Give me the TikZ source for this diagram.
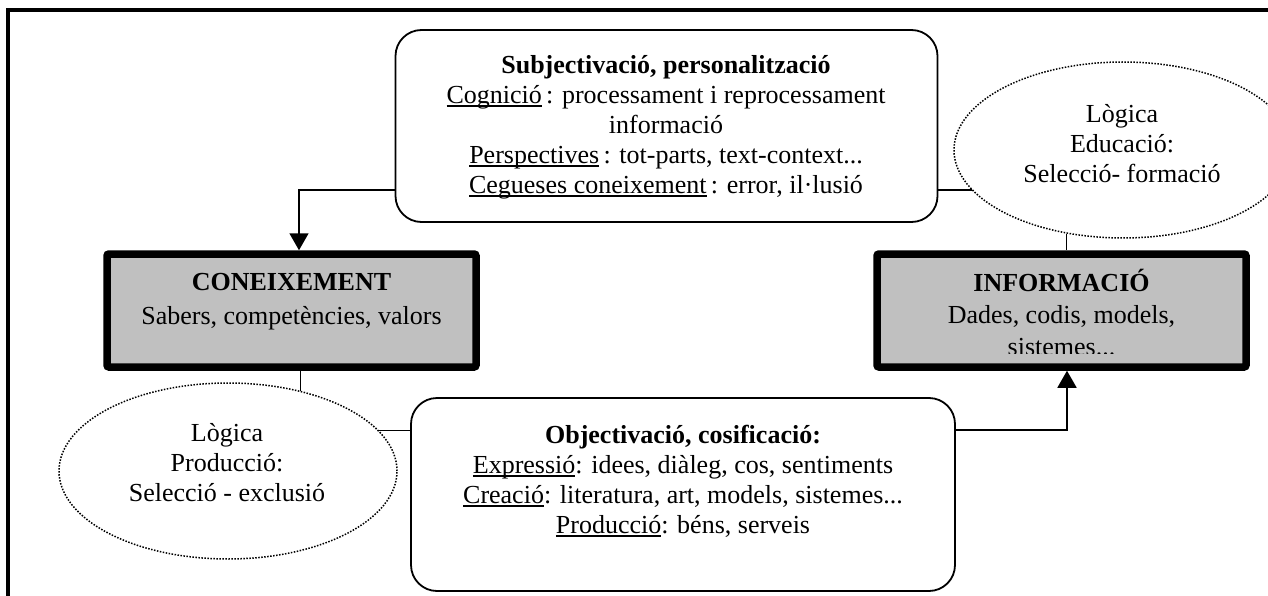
\documentclass[tikz,border=0pt]{standalone}
\usepackage{fontspec}
\setmainfont{Liberation Serif}
\usepackage{xcolor}
\usetikzlibrary{arrows.meta,shapes.geometric,positioning}
\definecolor{boxgray}{HTML}{C0C0C0}
\newcommand{\ulw}[1]{\setbox0\hbox{#1}\rlap{\rule[-4pt]{\wd0}{2pt}}\box0}

\begin{document}
\begin{tikzpicture}[x=1pt,y=-1pt,
  roundbox/.style={draw,line width=1.8pt,rounded corners=26pt,inner sep=0pt},
  graybox/.style={draw,fill=boxgray,line width=7.5pt,rounded corners=2pt,inner sep=0pt},
  logic/.style={ellipse,draw,line width=1.5pt,dash pattern=on 1.5pt off 1.5pt,inner sep=0pt},
  txt/.style={align=center,font=\fontsize{26}{30}\selectfont,inner sep=0pt},
  conn/.style={line width=1.6pt},
  arrowto/.style={-{Triangle[length=17pt,width=19pt]}}]
  \useasboundingbox (0,0) rectangle (1268,596);
  \clip (0,0) rectangle (1268,596);
  \draw[line width=3.5pt] (8,620) -- (8,10) -- (1290,10);

  \node[roundbox,minimum width=542pt,minimum height=192pt] (subj) at (666.5,126) {};
  \node[graybox,minimum width=369pt,minimum height=113pt] (con) at (291.5,310.5) {};
  \node[graybox,minimum width=369pt,minimum height=113pt] (inf) at (1061.5,310.5) {};
  \node[roundbox,minimum width=544pt,minimum height=193pt] (obj) at (683,494.5) {};
  \node[logic,minimum width=338pt,minimum height=176pt] (logtop) at (1123,150) {};
  \node[logic,minimum width=338pt,minimum height=176pt] (logbot) at (228,471) {};

  \node[txt] (subjtext) at (666,127) {\textbf{Subjectivació, personalització}\\
    \ulw{Cognició}\,: processament i reprocessament\\ informació\\
    \ulw{Perspectives}\,: tot-parts, text-context...\\
    \ulw{Cegueses coneixement}\,: error, il·lusió};
  \node[txt,font=\fontsize{26}{34}\selectfont] (context) at (291.5,302)
    {\textbf{CONEIXEMENT}\\Sabers, competències, valors};
  \begin{scope}
    \clip (877,254) rectangle (1246,353);
    \node[txt,font=\fontsize{26}{32}\selectfont] (inftext) at (1061.5,313)
      {\textbf{INFORMACIÓ}\\Dades, codis, models,\\sistemes...};
  \end{scope}
  \node[txt] (objtext) at (683,481) {\textbf{Objectivació, cosificació:}\\
    \ulw{Expressió}: idees, diàleg, cos, sentiments\\
    \ulw{Creació}: literatura, art, models, sistemes...\\
    \ulw{Producció}: béns, serveis};
  \node[txt] (logtoptext) at (1122,144) {Lògica\\Educació:\\Selecció- formació};
  \node[txt] (logbottext) at (227,463) {Lògica\\Producció:\\Selecció - exclusió};

  \coordinate (s1) at ([yshift=-64pt]subj.east);
  \draw[conn] (s1) -- (s1 -| logtop.195);
  \draw[conn,arrowto] ([yshift=-64pt]subj.west) -| ([xshift=7.5pt]con.north);
  \draw[conn] (logtop.236) -- (logtop.236 |- inf.north);
  \draw[conn] (logbot.48) -- (logbot.48 |- con.south);
  \draw[conn] (logbot.15) -- (logbot.15 -| obj.west);
  \draw[conn,arrowto] ([yshift=64.5pt]obj.east) -| ([xshift=5.5pt]inf.south);
\end{tikzpicture}
\end{document}
